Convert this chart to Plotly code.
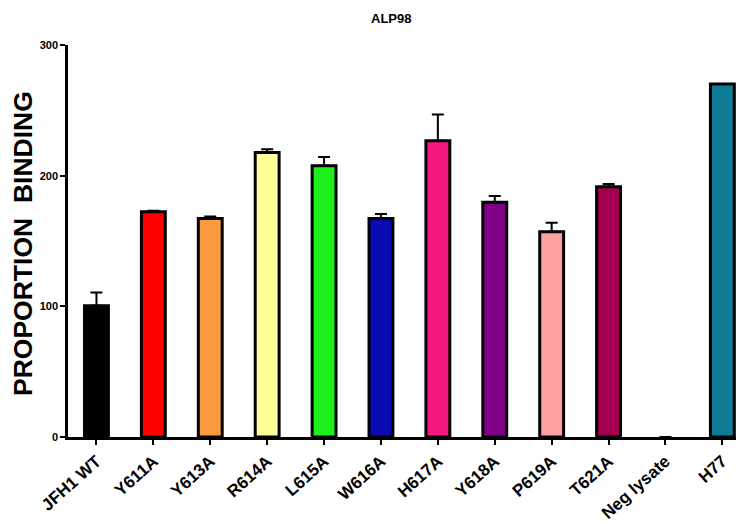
import plotly.graph_objects as go

categories = ["JFH1 WT", "Y611A", "Y613A", "R614A", "L615A", "W616A",
              "H617A", "Y618A", "P619A", "T621A", "Neg lysate", "H77"]
values = [100.5, 172.4, 167.3, 217.8, 207.6, 167.3, 226.7, 179.6, 157.1, 191.5, 0, 270.1]
errors = [10.0, 0.8, 1.5, 2.5, 6.6, 3.3, 20.2, 4.8, 6.9, 2.1, 0, 0]
colors = ["#000000", "#ff0000", "#f99a3c", "#ffff99", "#1ef01e", "#0a0ab4",
          "#f5177f", "#800086", "#ffa0a0", "#a3004f", "#ffffff", "#107b95"]
y_ticks = [0, 100, 200, 300]

FONT = "Arial, Liberation Sans, sans-serif"

line_w = [0 if v == 0 else 3 for v in values]

fig = go.Figure()
fig.add_trace(go.Bar(
    x=categories, y=values,
    marker=dict(color=colors, line=dict(color="black", width=line_w)),
    width=0.42,
    error_y=dict(type="data", symmetric=False, array=errors,
                 arrayminus=[0] * len(errors), color="black",
                 thickness=2, width=6),
))

# page body has an 8px margin, so the figure is sized/offset to compensate
fig.update_layout(
    width=736, height=516,
    margin=dict(l=60, r=0, t=37, b=87, autoexpand=False),
    paper_bgcolor="white", plot_bgcolor="white",
    showlegend=False,
    font=dict(family=FONT, color="black"),
    xaxis=dict(
        range=[-0.5, 11.38], showline=True, linecolor="black", linewidth=2.5,
        ticks="outside", ticklen=5, tickwidth=2, tickcolor="black",
        tickangle=-42, automargin=False,
        tickfont=dict(family=FONT, size=17, color="black", weight="bold"),
        showgrid=False, zeroline=False,
    ),
    yaxis=dict(
        range=[0, 300], tickvals=y_ticks, showline=True, linecolor="black",
        linewidth=2.5, ticks="outside", ticklen=5, tickwidth=2, tickcolor="black",
        automargin=False,
        tickfont=dict(family=FONT, size=11, color="black", weight="bold"),
        showgrid=False, zeroline=False,
    ),
    annotations=[
        dict(text="<b>ALP98</b>", xref="paper", yref="paper",
             x=(391 - 68) / 676, y=1 + (45 - 19) / 392, xanchor="center",
             yanchor="middle", showarrow=False,
             font=dict(family=FONT, size=13, color="black")),
        dict(text="<b>PROPORTION  BINDING</b>", xref="paper", yref="paper",
             x=(23 - 68) / 676, y=(437 - 244) / 392, xanchor="center",
             yanchor="middle", textangle=-90, showarrow=False,
             font=dict(family=FONT, size=26.5, color="black")),
    ],
)

fig.write_html("out.html")
